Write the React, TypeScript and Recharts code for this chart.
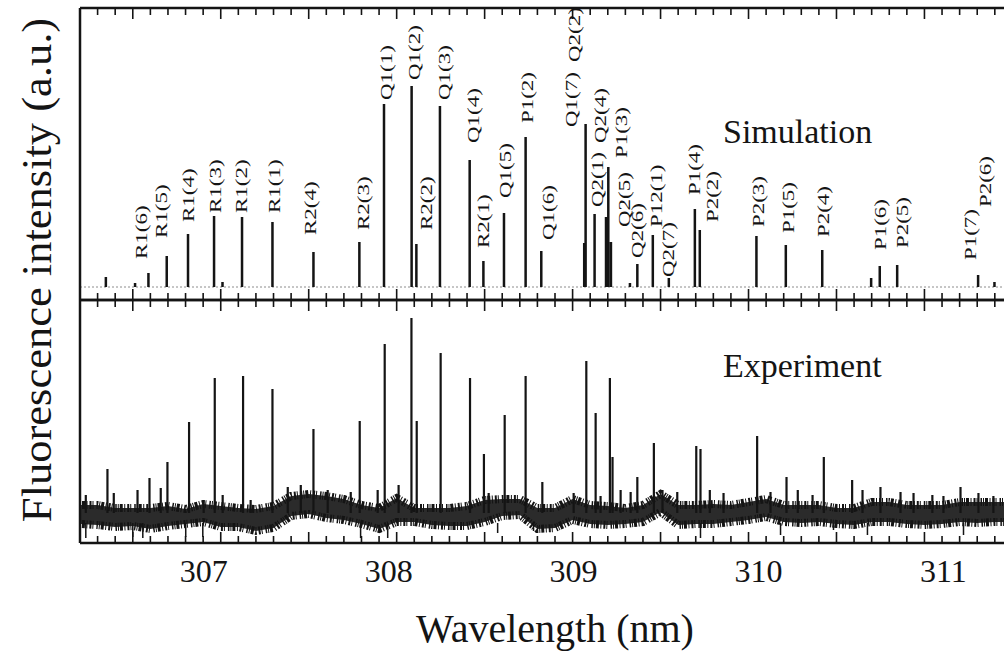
import React from "react";
import { Area, ComposedChart, Line, ReferenceLine, Scatter, XAxis, YAxis } from "recharts";

const FONT = '"Liberation Serif", "Times New Roman", serif';
const INK = "#141414";

const xDomain: [number, number] = [306.2, 311.6];
const tickLabels = [307, 308, 309, 310, 311];
const allTicks = Array.from({ length: 53 }, (_, i) => Math.round((306.3 + i * 0.1) * 10) / 10);

// simulated stick spectrum (a.u.)
const simWavelength = [
    306.347, 306.513, 306.589, 306.693, 306.814, 306.962, 307.01, 307.121, 307.294, 307.527,
    307.788, 307.928, 308.085, 308.112, 308.246, 308.415, 308.493, 308.61, 308.733, 308.822,
    309.066, 309.074, 309.125, 309.19, 309.203, 309.218, 309.326, 309.368, 309.456, 309.547,
    309.695, 309.723, 310.045, 310.212, 310.419, 310.697, 310.746, 310.845, 311.305, 311.398,
];
const simIntensity = [
    10, 4, 14, 31, 53, 71, 5, 70, 65, 35,
    45, 183, 201, 43, 181, 127, 26, 74, 150, 36,
    44, 163, 73, 70, 120, 45, 4, 23, 52, 9,
    78, 57, 51, 42, 37, 9, 21, 22, 12, 5,
];

// line assignments
const lineNames = [
    "R1(6)", "R1(5)", "R1(4)", "R1(3)", "R1(2)", "R1(1)", "R2(4)", "R2(3)", "Q1(1)", "Q1(2)",
    "R2(2)", "Q1(3)", "Q1(4)", "R2(1)", "Q1(5)", "P1(2)", "Q1(6)", "Q1(7)", "Q2(2)", "Q2(1)",
    "Q2(4)", "P1(3)", "Q2(5)", "Q2(6)", "P12(1)", "Q2(7)", "P1(4)", "P2(2)", "P2(3)", "P1(5)",
    "P2(4)", "P1(6)", "P2(5)", "P1(7)", "P2(6)",
];
const nameWavelength = [
    306.545, 306.659, 306.812, 306.966, 307.114, 307.301, 307.506, 307.812, 307.938, 308.097,
    308.165, 308.267, 308.432, 308.494, 308.619, 308.744, 308.858, 308.989, 309.006, 309.142,
    309.159, 309.273, 309.29, 309.369, 309.472, 309.545, 309.688, 309.795, 310.057, 310.227,
    310.426, 310.75, 310.875, 311.261, 311.347,
];
const nameLevel = [
    28, 49, 65, 74, 74, 74, 52, 57, 187, 207,
    57, 187, 144, 39, 89, 164, 47, 160, 225, 80,
    144, 129, 60, 29, 60, 10, 92, 65, 60, 54,
    50, 37, 39, 27, 80,
];

// experiment: noise band
const expGrid = [
    306.2, 306.3, 306.4, 306.5, 306.6, 306.7, 306.8, 306.9, 307.0, 307.1,
    307.2, 307.3, 307.4, 307.5, 307.6, 307.7, 307.8, 307.9, 308.0, 308.1,
    308.2, 308.3, 308.4, 308.5, 308.6, 308.7, 308.8, 308.9, 309.0, 309.1,
    309.2, 309.3, 309.4, 309.5, 309.6, 309.7, 309.8, 309.9, 310.0, 310.1,
    310.2, 310.3, 310.4, 310.5, 310.6, 310.7, 310.8, 310.9, 311.0, 311.1,
    311.2, 311.3, 311.4, 311.5, 311.6,
];
const expNoiseLow = [
    19, 18, 16, 17, 14, 17, 19, 21, 16, 16,
    12, 15, 27, 29, 25, 23, 19, 14, 21, 21,
    18, 17, 17, 21, 27, 28, 14, 15, 23, 19,
    18, 19, 21, 31, 18, 19, 19, 21, 23, 26,
    21, 20, 21, 19, 18, 21, 21, 19, 18, 19,
    21, 20, 21, 21, 21,
];
const expNoiseHigh = [
    38, 38, 35, 35, 35, 37, 34, 39, 37, 35,
    34, 37, 47, 49, 47, 44, 38, 35, 45, 35,
    35, 35, 37, 43, 44, 44, 35, 35, 44, 38,
    37, 35, 38, 49, 38, 38, 39, 38, 41, 44,
    38, 38, 38, 35, 35, 41, 41, 38, 38, 38,
    41, 41, 41, 41, 41,
];

// experiment: lines rising out of the noise
const expPeakWavelength = [
    306.233, 306.356, 306.392, 306.527, 306.595, 306.659, 306.697, 306.82, 306.903, 306.966,
    307.011, 307.127, 307.17, 307.294, 307.381, 307.455, 307.527, 307.608, 307.739, 307.79,
    307.892, 307.932, 308.011, 308.084, 308.114, 308.25, 308.417, 308.496, 308.523, 308.614,
    308.733, 308.828, 309.006, 309.078, 309.131, 309.159, 309.212, 309.227, 309.273, 309.33,
    309.368, 309.462, 309.511, 309.595, 309.703, 309.727, 309.78, 309.858, 310.049, 310.125,
    310.216, 310.28, 310.364, 310.428, 310.589, 310.648, 310.75, 310.864, 310.938, 311.045,
    311.108, 311.205, 311.307, 311.392,
];
const expPeakTop = [
    48, 74, 50, 53, 65, 55, 81, 121, 43, 165,
    48, 167, 43, 154, 56, 58, 114, 53, 51, 122,
    53, 199, 58, 225, 122, 190, 165, 89, 50, 128,
    167, 61, 50, 182, 130, 47, 165, 86, 53, 51,
    66, 100, 53, 51, 97, 94, 53, 50, 107, 51,
    66, 53, 48, 86, 63, 53, 56, 51, 50, 48,
    47, 56, 50, 47,
];
// experiment: dips below the noise
const expDipWavelength = [
    306.233, 306.5, 306.557, 306.801, 306.898, 307.795, 307.949, 308.324, 308.574, 308.778,
    309.727, 310.182, 310.483, 310.676, 311.222,
];
const expDipBottom = [5, 6, 5, 6, 6, 5, 5, 13, 10, 12, 5, 8, 13, 8, 8];

type Row = { nm: number; v: number | null };

function stickRows(xs: number[], ends: number[], base: number): Row[] {
    const rows: Row[] = [];
    xs.forEach((x, i) => {
        rows.push({ nm: x, v: base }, { nm: x, v: ends[i] }, { nm: x, v: null });
    });
    return rows;
}

const simRows = stickRows(simWavelength, simIntensity, 0);
const peakRows = stickRows(expPeakWavelength, expPeakTop, 30);
const dipRows = stickRows(expDipWavelength, expDipBottom, 20);
const bandRows = expGrid.map((nm, i) => ({ nm, lo: expNoiseLow[i], hi: expNoiseHigh[i] }));
const labelRows = lineNames.map((name, i) => ({ name, nm: nameWavelength[i], lvl: nameLevel[i] }));

function makeTick(dir: 1 | -1, showLabel = false) {
    return (props: any) => {
        const { x, y, payload } = props;
        const v = payload.value as number;
        const major = Math.abs(v * 2 - Math.round(v * 2)) < 1e-6;
        const len = major ? 11 : 7;
        return (
            <g>
                <line x1={x} x2={x} y1={y} y2={y + dir * len} stroke={INK} strokeWidth={1.6} />
                {showLabel && tickLabels.includes(v) && (
                    <text
                        x={x + (v - 309) * 9 + 1}
                        y={y + 39}
                        textAnchor="middle"
                        fontSize={32}
                        fontFamily={FONT}
                        fill={INK}
                    >
                        {v}
                    </text>
                )}
            </g>
        );
    };
}

const renderName = (p: any) => (
    <text
        transform={`translate(${p.cx},${p.cy}) rotate(-90) scale(1.35,1)`}
        fontSize={17}
        fontFamily={FONT}
        fill={INK}
        textAnchor="start"
        dominantBaseline="central"
    >
        {p.payload.name}
    </text>
);

const axisStyle = { stroke: INK, strokeWidth: 2.5 };

function xAxisProps(id: string, orientation: "top" | "bottom") {
    return {
        xAxisId: id,
        orientation,
        type: "number" as const,
        dataKey: "nm",
        domain: xDomain,
        allowDataOverflow: true,
        ticks: allTicks,
        interval: 0 as const,
        height: 1,
        tickSize: 0.01,
        tickMargin: 0.01,
        tickLine: false,
        axisLine: axisStyle,
    };
}

function yAxisProps(domain: [number, number]) {
    return {
        yAxisId: "y",
        type: "number" as const,
        domain,
        allowDataOverflow: true,
        width: 1,
        tick: false,
        tickLine: false,
        axisLine: axisStyle,
    };
}

export default function App() {
    return (
        <div
            style={{
                position: "fixed",
                inset: 0,
                width: 1004,
                height: 653,
                overflow: "hidden",
                background: "#fff",
            }}
        >
            <div style={{ position: "absolute", left: 0, top: 0 }}>
                <ComposedChart width={1040} height={310} margin={{ top: 7, right: 10, bottom: 9, left: 79 }}>
                    <XAxis {...xAxisProps("t", "top")} tick={makeTick(1)} />
                    <XAxis {...xAxisProps("b", "bottom")} tick={makeTick(-1)} />
                    <YAxis {...yAxisProps([-13, 279])} />
                    <ReferenceLine xAxisId="b" yAxisId="y" y={0} stroke="#8c8c8c" strokeDasharray="2 2" />
                    <Line
                        xAxisId="b"
                        yAxisId="y"
                        data={simRows}
                        dataKey="v"
                        type="linear"
                        stroke={INK}
                        strokeWidth={2.5}
                        dot={false}
                        connectNulls={false}
                        isAnimationActive={false}
                    />
                    <Scatter
                        xAxisId="b"
                        yAxisId="y"
                        data={labelRows}
                        dataKey="lvl"
                        shape={renderName}
                        isAnimationActive={false}
                    />
                </ComposedChart>
            </div>

            <div style={{ position: "absolute", left: 0, top: 290 }}>
                <ComposedChart width={1040} height={363} margin={{ top: 9, right: 10, bottom: 109, left: 79 }}>
                    <XAxis {...xAxisProps("t", "top")} tick={makeTick(1)} />
                    <XAxis
                        {...xAxisProps("b", "bottom")}
                        tick={makeTick(-1, true)}
                        label={{
                            value: "Wavelength (nm)",
                            position: "bottom",
                            offset: 70,
                            fontSize: 40,
                            fontFamily: FONT,
                            fill: INK,
                        }}
                    />
                    <YAxis {...yAxisProps([0, 243])} />
                    <Area
                        xAxisId="b"
                        yAxisId="y"
                        data={bandRows}
                        dataKey={(d: any) => [d.lo, d.hi]}
                        type="linear"
                        stroke={INK}
                        strokeWidth={8}
                        strokeDasharray="1 1 3 1.5 1 2 2 1 1 3 1.5 1"
                        fill={INK}
                        fillOpacity={0.9}
                        isAnimationActive={false}
                    />
                    <Line
                        xAxisId="b"
                        yAxisId="y"
                        data={peakRows}
                        dataKey="v"
                        type="linear"
                        stroke={INK}
                        strokeWidth={2.2}
                        dot={false}
                        connectNulls={false}
                        isAnimationActive={false}
                    />
                    <Line
                        xAxisId="b"
                        yAxisId="y"
                        data={dipRows}
                        dataKey="v"
                        type="linear"
                        stroke={INK}
                        strokeWidth={1.5}
                        dot={false}
                        connectNulls={false}
                        isAnimationActive={false}
                    />
                </ComposedChart>
            </div>

            <svg
                width={1004}
                height={653}
                style={{ position: "absolute", left: 0, top: 0, pointerEvents: "none" }}
            >
                <text
                    transform="translate(36,270) rotate(-90) scale(1.06,1)"
                    textAnchor="middle"
                    dominantBaseline="central"
                    fontSize={42}
                    fontFamily={FONT}
                    fill={INK}
                >
                    Fluorescence intensity (a.u.)
                </text>
                <text x={723} y={143} fontSize={34} fontFamily={FONT} fill={INK}>
                    Simulation
                </text>
                <text x={723} y={377} fontSize={34} fontFamily={FONT} fill={INK}>
                    Experiment
                </text>
            </svg>
        </div>
    );
}
